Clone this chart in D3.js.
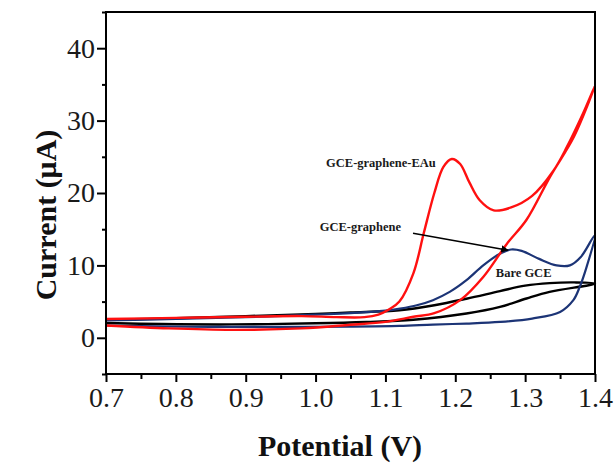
<!DOCTYPE html>
<html>
<head>
<meta charset="utf-8">
<script src="https://cdn.jsdelivr.net/npm/d3@7"></script>
<style>
  body { margin: 0; background: #fff; }
  svg { display: block; }
  text { font-family: "Liberation Serif", "Times New Roman", serif; }
</style>
</head>
<body>
<svg width="615" height="466"></svg>
<script>
// tick values
let xMajor = [0.7, 0.8, 0.9, 1.0, 1.1, 1.2, 1.3, 1.4];
let xMinor = [0.75, 0.85, 0.95, 1.05, 1.15, 1.25, 1.35];
let yMajor = [0, 10, 20, 30, 40];
let yMinor = [-5, 5, 15, 25, 35, 45];

// GCE-graphene-EAu (red), forward then reverse scan
let redE = [0.70, 0.80, 0.90, 0.98, 1.03, 1.07, 1.09, 1.105, 1.12, 1.14, 1.155, 1.17, 1.183, 1.195, 1.207, 1.22, 1.235, 1.255, 1.28, 1.31, 1.34, 1.36, 1.383, 1.40,
            1.37, 1.336, 1.302, 1.274, 1.24, 1.207, 1.17, 1.14, 1.10, 1.05, 0.98, 0.88, 0.79, 0.70];
let redI = [2.6, 2.75, 2.9, 3.0, 2.85, 2.85, 3.2, 3.9, 5.0, 8.9, 14.5, 20.0, 23.6, 24.7, 24.0, 21.5, 19.0, 17.6, 18.0, 19.6, 23.0, 26.4, 31.0, 34.8,
            27.8, 22.3, 16.3, 13.0, 8.4, 5.2, 3.4, 2.9, 2.2, 1.8, 1.3, 1.1, 1.3, 1.7];

// GCE-graphene (blue)
let blueE = [0.70, 0.80, 0.90, 1.00, 1.05, 1.10, 1.121, 1.145, 1.168, 1.192, 1.216, 1.24, 1.262, 1.28, 1.295, 1.32, 1.345, 1.364, 1.38, 1.40,
             1.388, 1.378, 1.369, 1.35, 1.31, 1.264, 1.216, 1.168, 1.12, 1.05, 0.95, 0.85, 0.75, 0.70];
let blueI = [2.4, 2.6, 2.85, 3.2, 3.4, 3.75, 4.04, 4.5, 5.2, 6.34, 7.96, 10.0, 11.5, 12.2, 12.0, 10.9, 10.0, 10.0, 11.2, 14.2,
             9.8, 7.0, 5.2, 3.57, 2.66, 2.19, 1.97, 1.83, 1.65, 1.55, 1.5, 1.5, 1.6, 1.7];

// Bare GCE (black)
let blackE = [0.70, 0.80, 0.90, 1.00, 1.05, 1.12, 1.17, 1.216, 1.264, 1.30, 1.335, 1.37, 1.40,
              1.335, 1.302, 1.264, 1.216, 1.14, 1.073, 1.00, 0.88, 0.78, 0.70];
let blackI = [2.5, 2.7, 3.0, 3.3, 3.5, 3.8, 4.5, 5.4, 6.45, 7.2, 7.55, 7.65, 7.5,
              6.34, 5.43, 4.26, 3.35, 2.5, 2.19, 2.0, 1.85, 1.9, 2.05];

let svg = d3.select("svg");

let x = d3.scaleLinear().domain([0.7, 1.4]).range([106, 595]);
let y = d3.scaleLinear().domain([-5, 45]).range([374, 12]);

function styleAxis(g) {
  g.select(".domain").remove();
  g.selectAll("line").attr("stroke", "#000").attr("stroke-width", 2);
  g.selectAll("text")
    .attr("font-family", "Liberation Serif, serif")
    .attr("font-size", 28)
    .attr("fill", "#1a1a1a");
}

// minor ticks
svg.append("g")
  .attr("transform", "translate(0,374)")
  .call(d3.axisBottom(x).tickValues(xMinor).tickSize(5).tickFormat(""))
  .call(styleAxis);
svg.append("g")
  .attr("transform", "translate(106,0)")
  .call(d3.axisLeft(y).tickValues(yMinor).tickSize(4).tickFormat(""))
  .call(styleAxis);

// major ticks
svg.append("g")
  .attr("transform", "translate(0,374)")
  .call(d3.axisBottom(x).tickValues(xMajor).tickSize(8).tickPadding(5).tickFormat(d3.format(".1f")))
  .call(styleAxis);
svg.append("g")
  .attr("transform", "translate(106,0)")
  .call(d3.axisLeft(y).tickValues(yMajor).tickSize(9).tickPadding(2).tickFormat(d3.format("d")))
  .call(styleAxis);

// curves
let line = d3
  .line()
  .x((d) => x(d[0]))
  .y((d) => y(d[1]))
  .curve(d3.curveCatmullRom.alpha(0.5));

let series = [
  { e: blackE, i: blackI, color: "#000000", w: 2.4 },
  { e: blueE, i: blueI, color: "#1c3476", w: 2.2 },
  { e: redE, i: redI, color: "#ff1010", w: 2.4 }
];

svg
  .selectAll("path.cv")
  .data(series)
  .enter()
  .append("path")
  .attr("class", "cv")
  .attr("d", (s) => line(s.e.map((v, k) => [v, s.i[k]])))
  .attr("fill", "none")
  .attr("stroke", (s) => s.color)
  .attr("stroke-width", (s) => s.w)
  .attr("stroke-linejoin", "round");

// frame
svg.append("rect")
  .attr("x", x(0.7))
  .attr("y", y(45))
  .attr("width", x(1.4) - x(0.7))
  .attr("height", y(-5) - y(45))
  .attr("fill", "none")
  .attr("stroke", "#000")
  .attr("stroke-width", 2);

// annotations
svg.append("defs")
  .append("marker")
  .attr("id", "arrow")
  .attr("viewBox", "0 0 10 10")
  .attr("refX", 9)
  .attr("refY", 5)
  .attr("markerWidth", 5)
  .attr("markerHeight", 5)
  .attr("orient", "auto")
  .attr("markerUnits", "strokeWidth")
  .append("path")
  .attr("d", "M0,0 L10,5 L0,10 z")
  .attr("fill", "#000");

svg.append("line")
  .attr("x1", x(1.1395))
  .attr("y1", y(14.45))
  .attr("x2", x(1.2754))
  .attr("y2", y(12.1))
  .attr("stroke", "#000")
  .attr("stroke-width", 1.5)
  .attr("marker-end", "url(#arrow)");

let labels = [
  { t: "GCE-graphene-EAu", e: 1.015, i: 23.6 },
  { t: "GCE-graphene", e: 1.006, i: 14.7 },
  { t: "Bare GCE", e: 1.258, i: 8.4 }
];
svg
  .selectAll("text.lab")
  .data(labels)
  .enter()
  .append("text")
  .attr("class", "lab")
  .attr("x", (d) => x(d.e))
  .attr("y", (d) => y(d.i))
  .attr("font-size", 12.5)
  .attr("font-weight", "bold")
  .attr("fill", "#1a1a1a")
  .text((d) => d.t);

// axis titles
svg.append("text")
  .attr("x", 340)
  .attr("y", 456)
  .attr("text-anchor", "middle")
  .attr("font-size", 30)
  .attr("font-weight", "bold")
  .attr("fill", "#111")
  .text("Potential (V)");

svg.append("text")
  .attr("transform", "translate(56,215) rotate(-90)")
  .attr("text-anchor", "middle")
  .attr("font-size", 30)
  .attr("font-weight", "bold")
  .attr("fill", "#111")
  .text("Current (μA)");
</script>
</body>
</html>
